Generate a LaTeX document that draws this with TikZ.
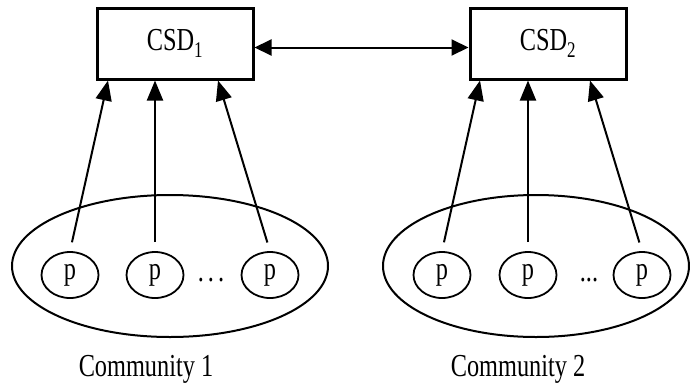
\documentclass[tikz,border=0pt]{standalone}
\usepackage{fontspec}
\setmainfont[FakeStretch=0.76]{Liberation Serif}
\usetikzlibrary{arrows.meta,shapes.geometric}
\tikzset{
  csdbox/.style={draw, line width=3pt, minimum width=156pt, minimum height=71pt, inner sep=0pt},
  pnode/.style={draw, ellipse, line width=1.8pt, minimum width=57pt, minimum height=46pt, inner sep=0pt},
  community/.style={draw, ellipse, line width=2pt, inner sep=0pt},
  link/.style={line width=2pt, -{Triangle[length=20pt,width=16pt]}},
  biglink/.style={line width=2pt, {Triangle[length=17pt,width=16pt]}-{Triangle[length=17pt,width=16pt]}},
  lbl/.style={inner sep=0pt}
}
\begin{document}
\begin{tikzpicture}[x=1pt,y=-1pt,font=\fontsize{32pt}{34pt}\selectfont]
\useasboundingbox (0,0) rectangle (690,383);
% boxes
\node[csdbox] (csd1) at (175,43.5) {CSD\textsubscript{1}};
\node[csdbox] (csd2) at (548,43.5) {CSD\textsubscript{2}};
% communities
\node[community, minimum width=316pt, minimum height=142pt] (com1) at (170,266) {};
\node[community, minimum width=306pt, minimum height=142pt] (com2) at (536,266) {};
% peers
\node[pnode] (p11) at (70,275) {p};
\node[pnode] (p12) at (155,275) {p};
\node[pnode] (p13) at (270,275) {p};
\node[pnode] (p21) at (442,275) {p};
\node[pnode] (p22) at (528,275) {p};
\node[pnode] (p23) at (642,275) {p};
\node[lbl] (d1) at (211,280) {.\hspace{4pt}.\hspace{4pt}.};
\node[lbl] (d2) at (589,280) {...};
% labels
\node[lbl] (c1) at (146,369) {Community 1};
\node[lbl] (c2) at (518,369) {Community 2};
% arrows
\draw[link, shorten <=9pt] (p11.north) -- ([xshift=-67pt]csd1.south);
\draw[link, shorten <=9pt] (p12.north) -- ([xshift=-20pt]csd1.south);
\draw[link, shorten <=9pt] (p13.north) -- ([xshift=43pt]csd1.south);
\draw[link, shorten <=9pt] (p21.north) -- ([xshift=-68pt]csd2.south);
\draw[link, shorten <=9pt] (p22.north) -- ([xshift=-20pt]csd2.south);
\draw[link, shorten <=9pt] (p23.north) -- ([xshift=42pt]csd2.south);
\draw[biglink] ([yshift=-4pt]csd1.east) -- ([yshift=-4pt]csd2.west);
\end{tikzpicture}
\end{document}
